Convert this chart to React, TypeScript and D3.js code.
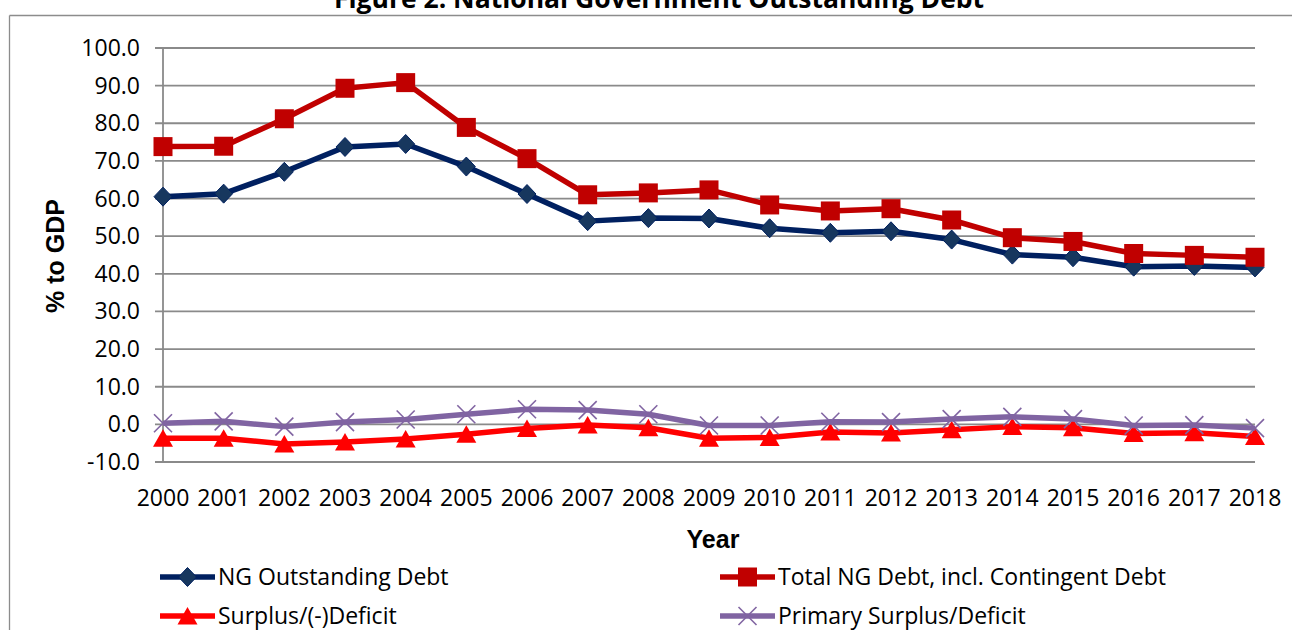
import React from "react";
import * as d3 from "d3";

const years = ["2000","2001","2002","2003","2004","2005","2006","2007","2008","2009","2010","2011","2012","2013","2014","2015","2016","2017","2018"];
const ngDebt = [60.5, 61.3, 67.1, 73.7, 74.5, 68.5, 61.2, 54.0, 54.8, 54.7, 52.1, 50.9, 51.3, 49.1, 45.1, 44.4, 41.9, 42.1, 41.7];
const totalDebt = [73.8, 73.9, 81.2, 89.3, 90.8, 78.9, 70.6, 61.0, 61.5, 62.3, 58.3, 56.7, 57.3, 54.3, 49.6, 48.6, 45.4, 44.9, 44.4];
const surplus = [-3.7, -3.7, -5.2, -4.7, -3.9, -2.6, -1.1, -0.2, -0.9, -3.7, -3.5, -2.0, -2.3, -1.4, -0.6, -0.9, -2.4, -2.2, -3.2];
const primary = [0.3, 0.8, -0.6, 0.6, 1.3, 2.7, 4.0, 3.8, 2.7, -0.3, -0.3, 0.7, 0.6, 1.4, 2.0, 1.4, -0.3, -0.2, -1.0];
const yTicks = [-10, 0, 10, 20, 30, 40, 50, 60, 70, 80, 90, 100];
const seriesNames = ["NG Outstanding Debt", "Total NG Debt, incl. Contingent Debt", "Surplus/(-)Deficit", "Primary Surplus/Deficit"];
const title = "Figure 2. National Government Outstanding Debt";

const W = 1292, H = 630;
const tickFont = "'Open Sans', 'Liberation Sans', sans-serif";
const boldFont = "'Liberation Sans', Arial, sans-serif";

type MarkerKind = "diamond" | "square" | "triangle" | "x";

function Marker({ kind, x, y }: { kind: MarkerKind; x: number; y: number }) {
  if (kind === "diamond") {
    return <path d={`M${x},${y - 9.5}L${x + 9},${y}L${x},${y + 9.5}L${x - 9},${y}Z`} fill="#17375E" stroke="#002060" strokeWidth={1} />;
  }
  if (kind === "square") {
    return <rect x={x - 9.5} y={y - 9.5} width={19} height={19} fill="#C00000" />;
  }
  if (kind === "triangle") {
    return <path d={`M${x},${y - 9}L${x + 10},${y + 8.5}L${x - 10},${y + 8.5}Z`} fill="#FF0000" />;
  }
  return (
    <g stroke="#8064A2" strokeWidth={1.6}>
      <line x1={x - 9} y1={y - 9} x2={x + 9} y2={y + 9} />
      <line x1={x - 9} y1={y + 9} x2={x + 9} y2={y - 9} />
    </g>
  );
}

export default function App() {
  const x = d3.scalePoint<string>().domain(years).range([163, 1255]);
  const y = d3.scaleLinear().domain([-10, 100]).range([462, 48]);
  const line = d3.line<number>().x((_, i) => x(years[i]) as number).y((d) => y(d));

  const series: { data: number[]; color: string; kind: MarkerKind; width: number }[] = [
    { data: ngDebt, color: "#002060", kind: "diamond", width: 5.5 },
    { data: totalDebt, color: "#C00000", kind: "square", width: 5.5 },
    { data: surplus, color: "#FF0000", kind: "triangle", width: 5.5 },
    { data: primary, color: "#8064A2", kind: "x", width: 5.5 },
  ];

  const legendPos = [
    { x: 160, y: 577 },
    { x: 720, y: 577 },
    { x: 160, y: 616 },
    { x: 720, y: 616 },
  ];

  return (
    <svg width={W} height={H} style={{ position: "absolute", left: 0, top: 0, background: "#fff" }}>
      <rect x={0} y={0} width={W} height={H} fill="#fff" />
      {/* chart border */}
      <line x1={9.5} y1={15.5} x2={W} y2={15.5} stroke="#8C8C8C" strokeWidth={1.3} />
      <line x1={9.5} y1={15.5} x2={9.5} y2={H} stroke="#8C8C8C" strokeWidth={1.3} />

      <text x={659} y={8} textAnchor="middle" fontFamily={tickFont} fontWeight="bold" fontSize={26.5} fill="#000">{title}</text>

      {/* gridlines */}
      {yTicks.map((t) => (
        <g key={t}>
          <line x1={155} x2={1255} y1={y(t)} y2={y(t)} stroke="#8A8A8A" strokeWidth={1.8} />
          <text x={140} y={y(t) + 8} textAnchor="end" fontFamily={tickFont} fontSize={23} fill="#000">{t.toFixed(1)}</text>
        </g>
      ))}
      <line x1={163} x2={163} y1={y(100)} y2={y(-10)} stroke="#8A8A8A" strokeWidth={1.8} />

      {years.map((yr) => (
        <text key={yr} x={x(yr) as number} y={506} textAnchor="middle" fontFamily={tickFont} fontSize={23} fill="#000">{yr}</text>
      ))}

      <text x={713} y={548} textAnchor="middle" fontFamily={boldFont} fontWeight="bold" fontSize={25} fill="#000">Year</text>
      <text transform="translate(64,256) rotate(-90)" textAnchor="middle" fontFamily={boldFont} fontWeight="bold" fontSize={25} fill="#000">% to GDP</text>

      {series.map((s, si) => (
        <g key={si}>
          <path d={line(s.data) ?? ""} fill="none" stroke={s.color} strokeWidth={s.width} strokeLinejoin="round" />
          {s.data.map((v, i) => (
            <Marker key={i} kind={s.kind} x={x(years[i]) as number} y={y(v)} />
          ))}
        </g>
      ))}

      {series.map((s, si) => {
        const p = legendPos[si];
        return (
          <g key={"lg" + si}>
            <line x1={p.x} x2={p.x + 55} y1={p.y} y2={p.y} stroke={s.color} strokeWidth={s.width} />
            <Marker kind={s.kind} x={p.x + 27.5} y={p.y} />
            <text x={p.x + 58} y={p.y + 8} fontFamily={tickFont} fontSize={23} fill="#000">{seriesNames[si]}</text>
          </g>
        );
      })}
    </svg>
  );
}
